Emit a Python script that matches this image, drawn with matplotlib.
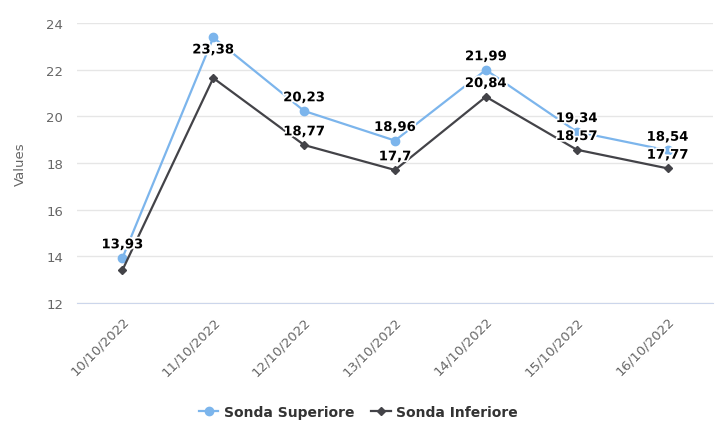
import matplotlib.pyplot as plt
import matplotlib.patheffects as pe

dates = ['10/10/2022', '11/10/2022', '12/10/2022', '13/10/2022',
         '14/10/2022', '15/10/2022', '16/10/2022']
superiore = [13.93, 23.38, 20.23, 18.96, 21.99, 19.34, 18.54]
inferiore = [13.41, 21.64, 18.77, 17.7, 20.84, 18.57, 17.77]
# etichette nascoste dove si sovrappongono (come nell'originale)
show_inf = [False, False, True, True, True, True, True]
yticks = [12, 14, 16, 18, 20, 22, 24]

blue = '#7cb5ec'
dark = '#434348'

plt.rcParams['font.family'] = ['DejaVu Sans']

fig = plt.figure(figsize=(7.17, 4.39), dpi=100)
ax = fig.add_axes([77 / 717, 1 - 304 / 439, 636 / 717, 280 / 439])

x = list(range(len(dates)))
ax.plot(x, superiore, color=blue, lw=1.6, marker='o', ms=6, label='Sonda Superiore', zorder=3)
ax.plot(x, inferiore, color=dark, lw=1.6, marker='D', ms=4.5, label='Sonda Inferiore', zorder=3)

outline = [pe.withStroke(linewidth=2.5, foreground='white')]

def fmt(v):
    return ('%g' % v).replace('.', ',')

for i, v in enumerate(superiore):
    dy = -9 if v > 23 else 9.5
    ax.annotate(fmt(v), (i, v), xytext=(0, dy), textcoords='offset points', ha='center',
                va='center', fontsize=9.5, fontweight='bold', color='black',
                path_effects=outline, zorder=5, annotation_clip=False)
for i, v in enumerate(inferiore):
    if show_inf[i]:
        ax.annotate(fmt(v), (i, v), xytext=(0, 9.5), textcoords='offset points', ha='center',
                    va='center', fontsize=9.5, fontweight='bold', color='black',
                    path_effects=outline, zorder=5, annotation_clip=False)

ax.set_xlim(-0.5, len(dates) - 0.5)
ax.set_ylim(12, 24)
ax.set_yticks(yticks)
ax.set_yticklabels([str(t) for t in yticks], fontsize=9.5, color='#666666')
ax.set_xticks(x)
ax.set_xticklabels(dates, rotation=45, ha='right', rotation_mode='anchor', fontsize=9.5, color='#666666')
ax.tick_params(axis='both', length=0, pad=10)
ax.tick_params(axis='x', pad=8)
ax.grid(axis='y', color='#e6e6e6', lw=1)
ax.set_axisbelow(True)
for s in ['top', 'right', 'left']:
    ax.spines[s].set_visible(False)
ax.spines['bottom'].set_color('#ccd6eb')
ax.set_ylabel('Values', fontsize=9.5, color='#666666', labelpad=14)

fig.legend(loc='center', bbox_to_anchor=(0.5, 1 - 413 / 439), ncol=2, frameon=False,
           prop={'weight': 'bold', 'size': 10}, labelcolor='#333333',
           handlelength=1.4, columnspacing=1.2, handletextpad=0.4)

fig.savefig('out.png', dpi=100)
